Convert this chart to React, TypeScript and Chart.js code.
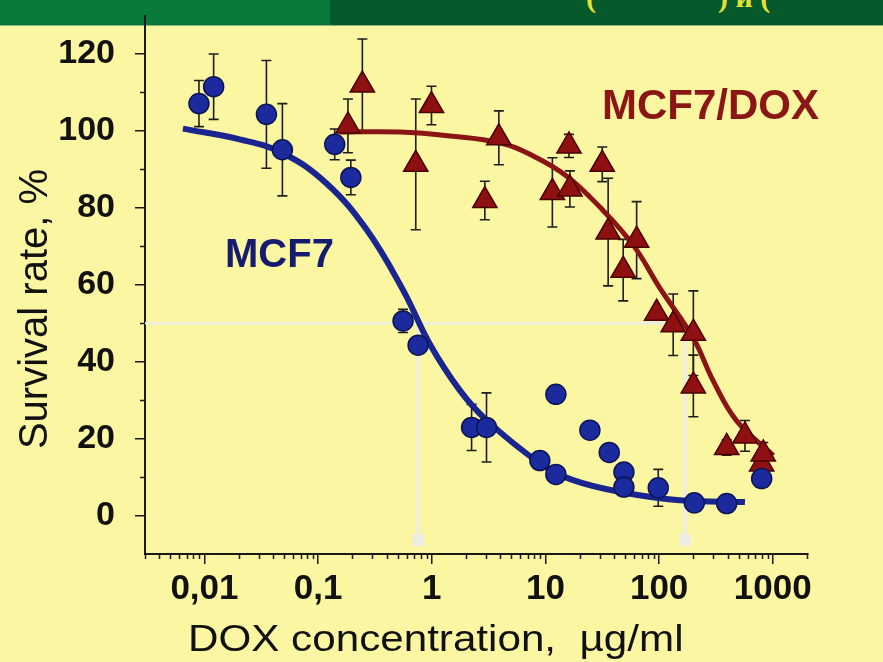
import React, { useEffect, useRef } from "react";
import { Chart, registerables } from "chart.js";

Chart.register(...registerables);

// ---- data ----
const mcf7Conc = [0.00895, 0.01205, 0.0351, 0.0485, 0.14, 0.194, 0.559, 0.758, 2.24, 3.03, 8.93, 12.35, 12.35, 24.6, 36.4, 49.0, 49.0, 98.2, 204, 393, 798];
const mcf7Survival = [107.1, 111.5, 104.3, 95.1, 96.5, 87.9, 50.6, 44.3, 22.9, 22.9, 14.3, 10.7, 31.5, 22.2, 16.4, 11.3, 7.4, 7.2, 3.3, 3.1, 9.6];
const mcf7Error = [6, 8.5, 14, 12, 4, 4.5, 3, 2, 6, 9, 0, 0, 0, 0, 0, 0, 0, 4.8, 0, 0, 0];

const doxConc = [0.183, 0.245, 0.723, 0.994, 2.93, 3.89, 11.5, 16.1, 16.4, 31.6, 35.6, 48.3, 63.4, 95.1, 133, 200, 200, 393, 569, 798, 824];
const doxSurvival = [101.3, 111.9, 91.3, 106.6, 81.9, 98.2, 84.0, 96.1, 84.9, 91.3, 73.7, 63.8, 71.6, 52.6, 49.6, 47.4, 33.7, 17.7, 20.7, 13.4, 16.0];
const doxError = [7, 12, 17, 5, 5, 7, 9, 3, 4.7, 4.5, 14, 8, 10, 0, 8, 11, 8, 2, 4, 3, 3];

const mcf7FitConc = [0.00647, 0.0204, 0.0491, 0.118, 0.266, 0.559, 0.96, 1.76, 3.03, 8.93, 17.5, 48.3, 152, 569];
const mcf7FitSurvival = [100.6, 97.8, 94.2, 86.4, 74.4, 58.6, 44.6, 32.6, 24.8, 13.6, 9.2, 6.0, 4.0, 3.5];

const doxFitConc = [0.155, 0.523, 1.44, 3.97, 7.8, 15.3, 30.1, 59.2, 101.6, 200, 299, 481, 1010];
const doxFitSurvival = [99.7, 99.7, 98.7, 96.9, 93.5, 88.3, 80.2, 70.3, 59.1, 46.1, 35.0, 24.6, 15.6];

const ic50Level = 50;
const ic50Mcf7 = 0.76;
const ic50Dox = 169;
const ic50Bottom = -6.4;

const xMin = 0.003;
const xMax = 2040;
const yMin = -10;
const yMax = 130;

const xTickValues = [0.01, 0.1, 1, 10, 100, 1000];
const xTickLabels = ["0,01", "0,1", "1", "10", "100", "1000"];
const yTickValues = [0, 20, 40, 60, 80, 100, 120];
const yMinorTickValues = [10, 30, 50, 70, 90, 110];

const FONT = "'Liberation Sans', Arial, Helvetica, sans-serif";
const AXIS_COLOR = "#1a1a1a";
const IC50_COLOR = "rgba(236,236,230,0.95)";

const errorBarPlugin = {
  id: "errorBars",
  beforeDatasetsDraw(chart: any) {
    const ctx = chart.ctx;
    const xs = chart.scales.x;
    const ys = chart.scales.y;
    ctx.save();
    ctx.strokeStyle = "#1e1e1e";
    ctx.lineWidth = 1.6;
    chart.data.datasets.forEach((ds: any) => {
      if (!ds.errors) return;
      ds.data.forEach((p: any, i: number) => {
        const e = ds.errors[i];
        if (!e) return;
        const px = xs.getPixelForValue(p.x);
        const y1 = ys.getPixelForValue(p.y + e);
        const y2 = ys.getPixelForValue(p.y - e);
        ctx.beginPath();
        ctx.moveTo(px, y1);
        ctx.lineTo(px, y2);
        ctx.moveTo(px - 5, y1);
        ctx.lineTo(px + 5, y1);
        ctx.moveTo(px - 5, y2);
        ctx.lineTo(px + 5, y2);
        ctx.stroke();
      });
    });
    ctx.restore();
  },
};

const minorTickPlugin = {
  id: "minorTicks",
  afterDraw(chart: any) {
    const ctx = chart.ctx;
    const xs = chart.scales.x;
    const ys = chart.scales.y;
    const area = chart.chartArea;
    ctx.save();
    ctx.strokeStyle = AXIS_COLOR;
    ctx.lineWidth = 1.5;
    ctx.beginPath();
    for (let e = -3; e <= 3; e++) {
      for (let m = 2; m <= 9; m++) {
        const v = m * Math.pow(10, e);
        if (v < xMin || v > xMax) continue;
        const px = Math.round(xs.getPixelForValue(v)) + 0.5;
        ctx.moveTo(px, area.bottom);
        ctx.lineTo(px, area.bottom + 5);
      }
    }
    yMinorTickValues.forEach((v) => {
      const py = Math.round(ys.getPixelForValue(v)) + 0.5;
      ctx.moveTo(area.left - 5, py);
      ctx.lineTo(area.left, py);
    });
    ctx.stroke();
    ctx.restore();
  },
};

export default function App() {
  const canvasRef = useRef<HTMLCanvasElement | null>(null);

  useEffect(() => {
    if (!canvasRef.current) return;
    const pts = (xs: number[], ys: number[]) => xs.map((x, i) => ({ x, y: ys[i] }));

    const chart = new Chart(canvasRef.current, {
      type: "scatter",
      data: {
        datasets: [
          {
            label: "MCF7",
            data: pts(mcf7Conc, mcf7Survival),
            errors: mcf7Error,
            pointStyle: "circle",
            pointRadius: 10,
            backgroundColor: "#1b2a9c",
            borderColor: "#0c1458",
            borderWidth: 1.5,
            order: 1,
          } as any,
          {
            label: "MCF7/DOX",
            data: pts(doxConc, doxSurvival),
            errors: doxError,
            pointStyle: "triangle",
            pointRadius: 14,
            backgroundColor: "#8e1010",
            borderColor: "#4a0000",
            borderWidth: 1.5,
            order: 1,
          } as any,
          {
            label: "MCF7 fit",
            data: pts(mcf7FitConc, mcf7FitSurvival),
            showLine: true,
            pointRadius: 0,
            borderColor: "#1a2590",
            borderWidth: 6,
            tension: 0.4,
            order: 2,
          } as any,
          {
            label: "MCF7/DOX fit",
            data: pts(doxFitConc, doxFitSurvival),
            showLine: true,
            pointRadius: 0,
            borderColor: "#8b1414",
            borderWidth: 5,
            tension: 0.4,
            order: 2,
          } as any,
          {
            label: "IC50 level",
            data: [
              { x: xMin, y: ic50Level },
              { x: ic50Dox, y: ic50Level },
            ],
            showLine: true,
            pointRadius: 0,
            borderColor: IC50_COLOR,
            borderWidth: 2.5,
            order: 3,
          } as any,
          {
            label: "IC50 MCF7",
            data: [
              { x: ic50Mcf7, y: ic50Level },
              { x: ic50Mcf7, y: ic50Bottom },
            ],
            showLine: true,
            pointRadius: [0, 6],
            pointStyle: "rect",
            backgroundColor: IC50_COLOR,
            borderColor: IC50_COLOR,
            borderWidth: 3.5,
            order: 3,
          } as any,
          {
            label: "IC50 MCF7/DOX",
            data: [
              { x: ic50Dox, y: ic50Level },
              { x: ic50Dox, y: ic50Bottom },
            ],
            showLine: true,
            pointRadius: [0, 6],
            pointStyle: "rect",
            backgroundColor: IC50_COLOR,
            borderColor: IC50_COLOR,
            borderWidth: 3.5,
            order: 3,
          } as any,
        ],
      },
      options: {
        responsive: false,
        animation: false,
        events: [],
        layout: { padding: { left: 0, right: 75, top: 12, bottom: 0 } },
        plugins: {
          legend: { display: false },
          tooltip: { enabled: false },
          title: { display: false },
        },
        scales: {
          x: {
            type: "logarithmic",
            min: xMin,
            max: xMax,
            bounds: "data",
            afterBuildTicks: (s: any) => {
              s.ticks = xTickValues.map((v) => ({ value: v }));
            },
            afterFit: (s: any) => {
              s.height = 108;
              s.paddingLeft = 0;
              s.paddingRight = 0;
            },
            grid: {
              display: true,
              drawOnChartArea: false,
              drawTicks: true,
              tickLength: 10,
              color: AXIS_COLOR,
              lineWidth: 1.5,
            },
            border: { display: true, color: AXIS_COLOR, width: 2 },
            ticks: {
              autoSkip: false,
              maxRotation: 0,
              padding: 4,
              color: "#111",
              font: { family: FONT, size: 35, weight: "bold" },
              callback: (value: any) => {
                const i = xTickValues.indexOf(Number(value));
                return i >= 0 ? xTickLabels[i] : "";
              },
            },
            title: { display: false },
          },
          y: {
            type: "linear",
            min: yMin,
            max: yMax,
            bounds: "data",
            afterBuildTicks: (s: any) => {
              s.ticks = yTickValues.map((v) => ({ value: v }));
            },
            afterFit: (s: any) => {
              s.width = 145;
              s.paddingTop = 0;
              s.paddingBottom = 0;
            },
            grid: {
              display: true,
              drawOnChartArea: false,
              drawTicks: true,
              tickLength: 10,
              color: AXIS_COLOR,
              lineWidth: 1.5,
            },
            border: { display: true, color: AXIS_COLOR, width: 2 },
            ticks: {
              autoSkip: false,
              padding: 20,
              color: "#111",
              font: { family: FONT, size: 34, weight: "bold" },
            },
            title: { display: false },
          },
        },
      },
      plugins: [errorBarPlugin, minorTickPlugin],
    } as any);

    return () => chart.destroy();
  }, []);

  return (
    <div
      style={{
        position: "fixed",
        left: 0,
        top: 0,
        width: 883,
        height: 662,
        background: "#fbf6a1",
        overflow: "hidden",
        fontFamily: FONT,
      }}
    >
      {/* header band */}
      <div style={{ position: "absolute", left: 0, top: 0, width: 883, height: 25, background: "#05592a", overflow: "hidden", borderBottom: "1px solid #8fb67a" }}>
        <div style={{ position: "absolute", left: 0, top: 0, width: 330, height: 25, background: "#0a7a3c" }} />
        <span style={{ position: "absolute", left: 586, top: -18, fontFamily: "'Liberation Serif', serif", fontWeight: "bold", fontSize: 30, lineHeight: "30px", color: "#e6e033", whiteSpace: "pre" }}>(</span>
        <span style={{ position: "absolute", left: 718, top: -18, fontFamily: "'Liberation Serif', serif", fontWeight: "bold", fontSize: 30, lineHeight: "30px", color: "#e6e033", whiteSpace: "pre" }}>{") и ("}</span>
      </div>

      <canvas ref={canvasRef} width={883} height={662} style={{ position: "absolute", left: 0, top: 0, zIndex: 2 }} />

      {/* series labels */}
      <div style={{ position: "absolute", left: 225, top: 233, fontSize: 40, lineHeight: "40px", fontWeight: "bold", color: "#151b6e", zIndex: 3, whiteSpace: "pre" }}>MCF7</div>
      <div style={{ position: "absolute", left: 602, top: 84, fontSize: 42, lineHeight: "42px", fontWeight: "bold", color: "#8a1616", zIndex: 3, whiteSpace: "pre" }}>MCF7/DOX</div>

      {/* axis titles */}
      <div
        style={{
          position: "absolute",
          left: 188,
          top: 620,
          fontSize: 37,
          lineHeight: "37px",
          color: "#111",
          whiteSpace: "pre",
          transform: "scaleX(1.14)",
          transformOrigin: "left center",
          zIndex: 3,
        }}
      >
        {"DOX concentration,  µg/ml"}
      </div>
      <div
        style={{
          position: "absolute",
          left: -117,
          top: 289,
          width: 300,
          height: 40,
          fontSize: 40,
          lineHeight: "40px",
          color: "#111",
          textAlign: "center",
          whiteSpace: "pre",
          transform: "rotate(-90deg)",
          transformOrigin: "center center",
          zIndex: 3,
        }}
      >
        {"Survival rate, %"}
      </div>
    </div>
  );
}
